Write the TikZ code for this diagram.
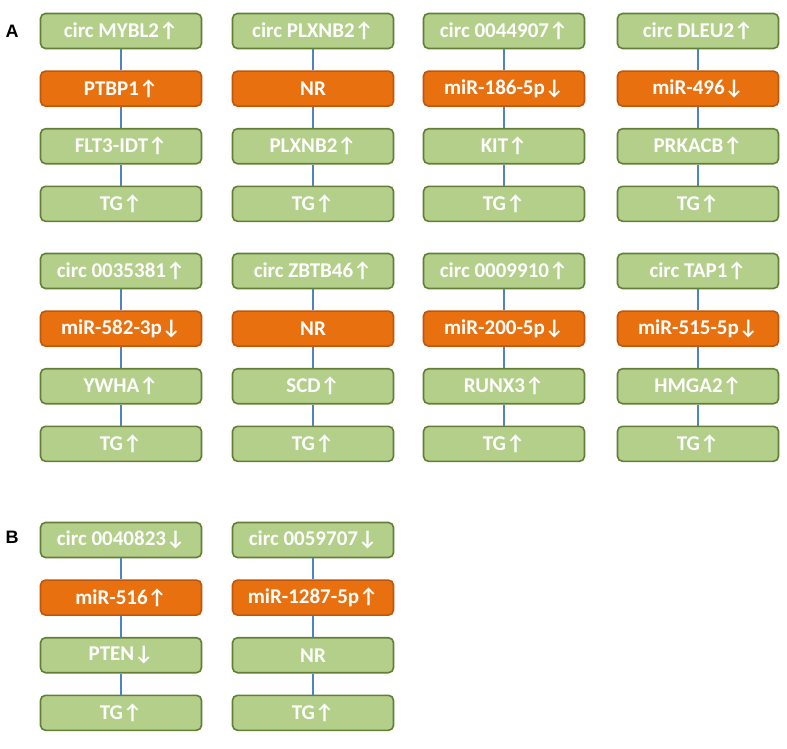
\documentclass[tikz,border=0pt]{standalone}
\usepackage{fontspec}
\setmainfont{Carlito}
\newfontfamily\panelfont{Liberation Sans}
\usepackage{xcolor}
\usepackage{tikz}
\usetikzlibrary{positioning}
\definecolor{axisgreen}{HTML}{B3CF8A}
\definecolor{axisgreenline}{HTML}{637F36}
\definecolor{axisorange}{HTML}{E9700E}
\definecolor{axisorangeline}{HTML}{BF560E}
\definecolor{linkblue}{HTML}{4F84C4}
\newcommand{\uparr}{↑}
\newcommand{\dnarr}{↓}
% one circRNA axis: circ -> sponge -> target -> TG
\newcommand{\axiscol}[6]{
    \node[genebox] (#1a) at (#2) {#3};
    \node[genebox, fill=axisorange, draw=axisorangeline, below=of #1a] (#1b) {#4};
    \node[genebox, below=of #1b] (#1c) {#5};
    \node[genebox, below=of #1c] (#1d) {#6};
    \draw[link] (#1a) -- (#1b);
    \draw[link] (#1b) -- (#1c);
    \draw[link] (#1c) -- (#1d);
}
\tikzset{
    genebox/.style={draw=axisgreenline, fill=axisgreen, line width=1.6pt, rounded corners=5pt,
        minimum width=161pt, minimum height=35pt, inner sep=0pt, text=white,
        font=\fontsize{21}{24}\selectfont\bfseries},
    link/.style={draw=linkblue, line width=2.4pt},
    panel/.style={font=\panelfont\fontsize{18}{20}\selectfont\bfseries}
}

\begin{document}
\begin{tikzpicture}[node distance=21pt]
    \useasboundingbox (0,0) rectangle (787pt,-748pt);

    \node[panel] (pA) at (12pt,-31pt) {A};
    \node[panel] (pB) at (12pt,-537pt) {B};

    % panel A, upper row
    \axiscol{mybl}{121pt,-31pt}{circ MYBL2\uparr}{PTBP1\uparr}{FLT3-IDT\uparr}{TG\uparr}
    \axiscol{plx}{313pt,-31pt}{circ PLXNB2\uparr}{NR}{PLXNB2\uparr}{TG\uparr}
    \axiscol{ck}{504pt,-31pt}{circ 0044907\uparr}{miR-186-5p\dnarr}{KIT\uparr}{TG\uparr}
    \axiscol{dleu}{698pt,-31pt}{circ DLEU2\uparr}{miR-496\dnarr}{PRKACB\uparr}{TG\uparr}

    % panel A, lower row
    \axiscol{cy}{121pt,-271pt}{circ 0035381\uparr}{miR-582-3p\dnarr}{YWHA\uparr}{TG\uparr}
    \axiscol{zbt}{313pt,-271pt}{circ ZBTB46\uparr}{NR}{SCD\uparr}{TG\uparr}
    \axiscol{cr}{504pt,-271pt}{circ 0009910\uparr}{miR-200-5p\dnarr}{RUNX3\uparr}{TG\uparr}
    \axiscol{tap}{698pt,-271pt}{circ TAP1\uparr}{miR-515-5p\dnarr}{HMGA2\uparr}{TG\uparr}

    % panel B
    \axiscol{cp}{121pt,-540pt}{circ 0040823\dnarr}{miR-516\uparr}{PTEN\dnarr}{TG\uparr}
    \axiscol{cn}{313pt,-540pt}{circ 0059707\dnarr}{miR-1287-5p\uparr}{NR}{TG\uparr}
\end{tikzpicture}
\end{document}
